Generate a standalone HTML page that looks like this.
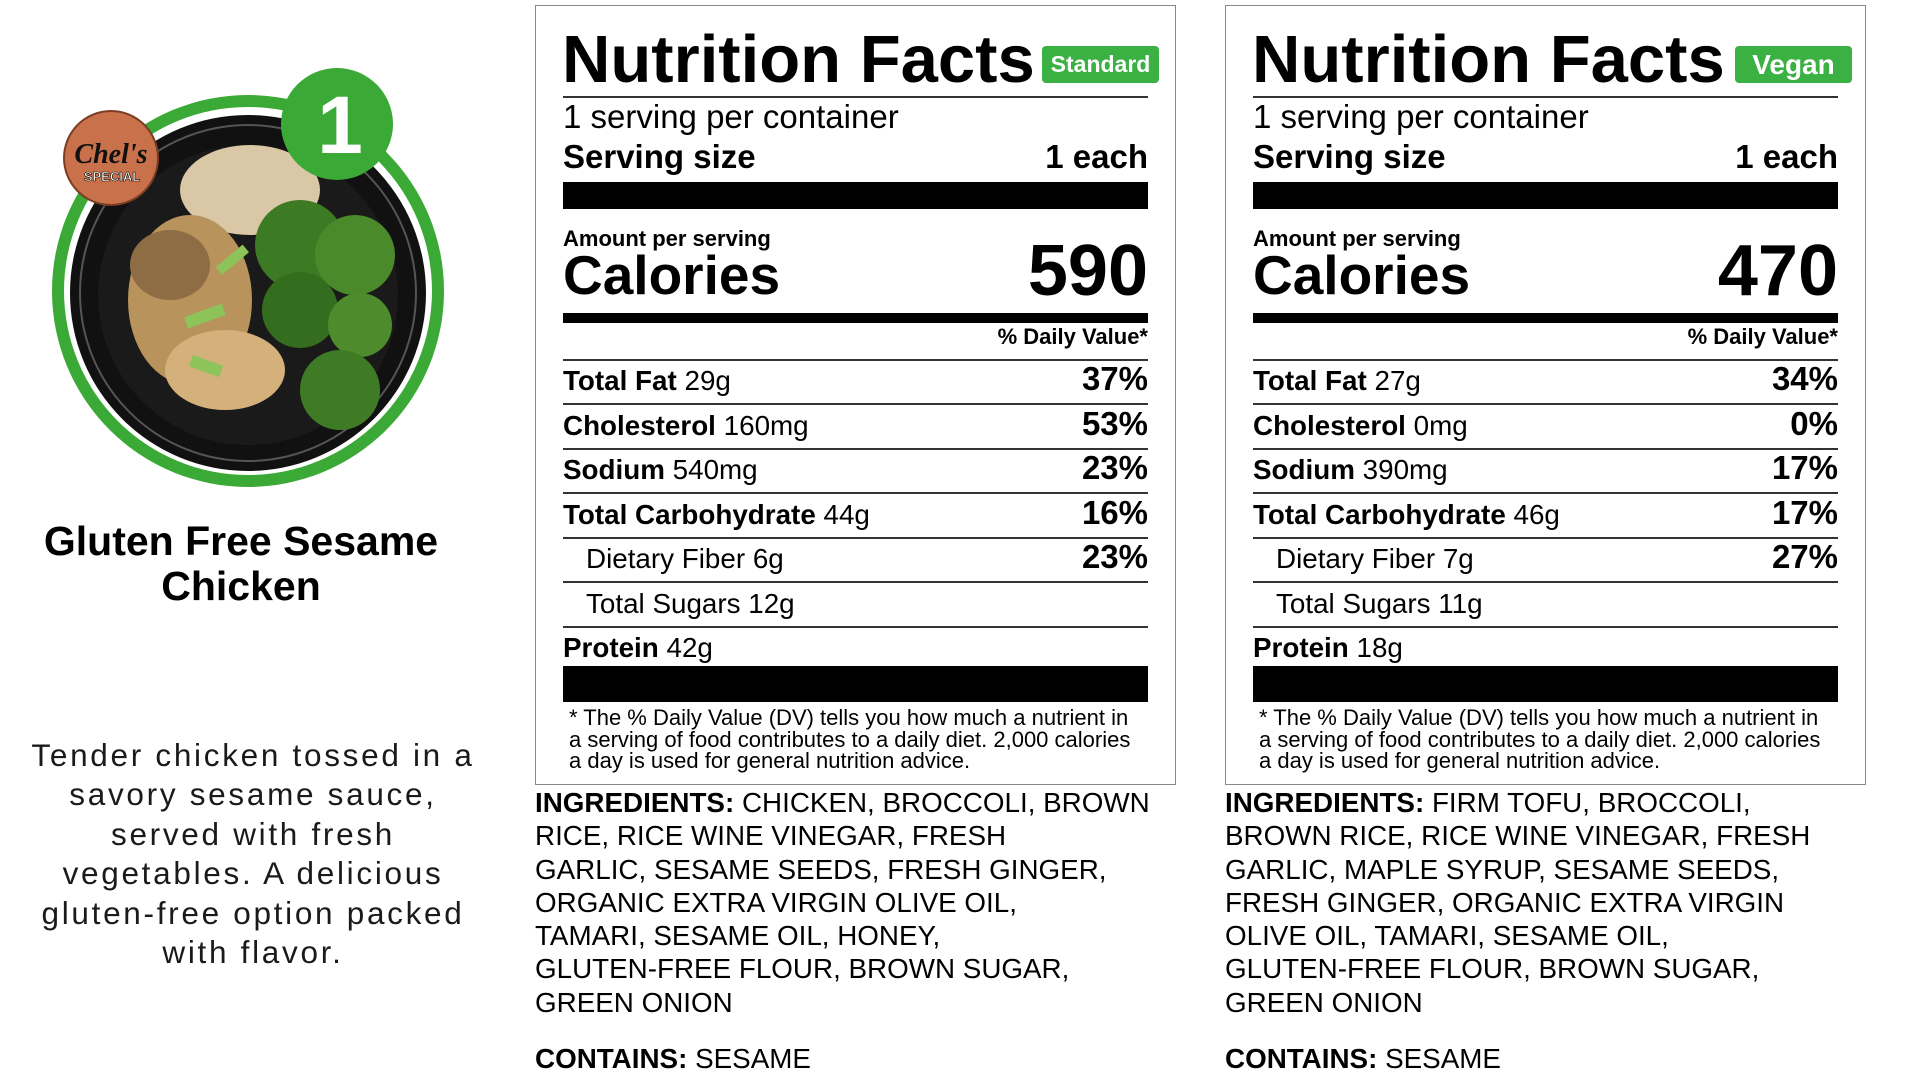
<!DOCTYPE html>
<html><head><meta charset="utf-8"><style>
*{margin:0;padding:0;box-sizing:border-box}
body{width:1915px;height:1080px;background:#fff;position:relative;overflow:hidden;font-family:"Liberation Sans",Arial,sans-serif;color:#000}
.a{position:absolute;white-space:nowrap}
.box{position:absolute;top:5px;width:641px;height:780px;border:1.5px solid #888}
.r{text-align:right}
.hl{position:absolute;height:2px;background:#333}
.bk{position:absolute;background:#000}
.badge{position:absolute;top:46px;height:37px;background:#3bb143;border-radius:4px;color:#fff;font-weight:bold;text-align:center;line-height:37px}
.row{font-size:27.8px;line-height:28px}
.pc{font-size:33px;line-height:33px;font-weight:bold}
.ing{font-size:27.8px;line-height:33.3px}
.left{position:absolute;white-space:nowrap;text-align:center}
</style></head><body>

<svg class="a" style="left:0;top:0" width="500" height="520" viewBox="0 0 500 520">
  <circle cx="248" cy="291" r="196" fill="#3aa935"/>
  <circle cx="248" cy="291" r="184" fill="#fff"/>
  <circle cx="248" cy="293" r="178" fill="#111"/>
  <circle cx="248" cy="293" r="168" fill="none" stroke="#555" stroke-width="2"/>
  <circle cx="248" cy="295" r="150" fill="#1a1a1a"/>
  <ellipse cx="250" cy="190" rx="70" ry="45" fill="#d9c7a6"/>
  <ellipse cx="190" cy="300" rx="62" ry="85" fill="#b8935c"/>
  <ellipse cx="225" cy="370" rx="60" ry="40" fill="#d4b07a"/>
  <ellipse cx="170" cy="265" rx="40" ry="35" fill="#8e6d45"/>
  <circle cx="300" cy="245" r="45" fill="#3d7a24"/>
  <circle cx="355" cy="255" r="40" fill="#4a8a2a"/>
  <circle cx="300" cy="310" r="38" fill="#356d1f"/>
  <circle cx="360" cy="325" r="32" fill="#4e8b2c"/>
  <circle cx="340" cy="390" r="40" fill="#3f7b24"/>
  <rect x="185" y="310" width="40" height="12" fill="#8cc45a" transform="rotate(-20 205 316)"/>
  <rect x="215" y="255" width="35" height="10" fill="#8cc45a" transform="rotate(-40 232 260)"/>
  <rect x="190" y="360" width="32" height="12" fill="#8cc45a" transform="rotate(20 206 366)"/>
  <circle cx="337" cy="124" r="56" fill="#3aa935"/>
  <text x="340" y="153" font-family="Liberation Sans" font-weight="bold" font-size="82" fill="#fff" text-anchor="middle">1</text>
  <circle cx="111" cy="158" r="47" fill="#c8714a" stroke="#7a3e22" stroke-width="2"/>
  <text x="111" y="163" font-family="Liberation Serif" font-style="italic" font-weight="bold" font-size="28" fill="#111" text-anchor="middle">Chel's</text>
  <text x="112" y="181" font-family="Liberation Sans" font-weight="bold" font-size="13" fill="#fff" stroke="#000" stroke-width="0.6" text-anchor="middle">SPECIAL</text>
</svg>

<div class="left" style="left:0;width:482px;top:519px;font-size:41px;line-height:45px;font-weight:bold">Gluten Free Sesame<br>Chicken</div>
<div class="left" style="left:3px;width:500px;top:736px;font-size:31.5px;line-height:39.4px;letter-spacing:2.7px;color:#1a1a1a">Tender chicken tossed in a<br>savory sesame sauce,<br>served with fresh<br>vegetables. A delicious<br>gluten-free option packed<br>with flavor.</div>

<!-- PANEL 1 -->
<div class="box" style="left:535px"></div>
<div class="a" style="left:562px;top:26px;font-size:67px;line-height:67px;font-weight:bold">Nutrition Facts</div>
<div class="badge" style="left:1042px;width:117px;font-size:23px">Standard</div>
<div class="hl" style="left:563px;width:585px;top:96px"></div>
<div class="a" style="left:563px;top:100px;font-size:33px;line-height:33px">1 serving per container</div>
<div class="a" style="left:563px;top:140px;font-size:33px;line-height:33px;font-weight:bold">Serving size</div>
<div class="a r" style="left:894px;width:254px;top:140px;font-size:33px;line-height:33px;font-weight:bold">1 each</div>
<div class="bk" style="left:563px;width:585px;top:182px;height:27px"></div>
<div class="a" style="left:563px;top:228px;font-size:22px;line-height:22px;font-weight:bold">Amount per serving</div>
<div class="a" style="left:563px;top:248px;font-size:55px;line-height:55px;font-weight:bold">Calories</div>
<div class="a r" style="left:894px;width:254px;top:235px;font-size:72px;line-height:72px;font-weight:bold">590</div>
<div class="bk" style="left:563px;width:585px;top:313px;height:10px"></div>
<div class="a r" style="left:894px;width:254px;top:326px;font-size:22px;line-height:22px;font-weight:bold">% Daily Value*</div>
<div class="hl" style="left:563px;width:585px;top:359px"></div>
<div class="hl" style="left:563px;width:585px;top:403px"></div>
<div class="hl" style="left:563px;width:585px;top:448px"></div>
<div class="hl" style="left:563px;width:585px;top:492px"></div>
<div class="hl" style="left:563px;width:585px;top:537px"></div>
<div class="hl" style="left:563px;width:585px;top:581px"></div>
<div class="hl" style="left:563px;width:585px;top:626px"></div>
<div class="a row" style="left:563px;top:367px"><b>Total Fat</b> 29g</div>
<div class="a row" style="left:563px;top:412px"><b>Cholesterol</b> 160mg</div>
<div class="a row" style="left:563px;top:456px"><b>Sodium</b> 540mg</div>
<div class="a row" style="left:563px;top:501px"><b>Total Carbohydrate</b> 44g</div>
<div class="a row" style="left:586px;top:545px">Dietary Fiber 6g</div>
<div class="a row" style="left:586px;top:590px">Total Sugars 12g</div>
<div class="a row" style="left:563px;top:634px"><b>Protein</b> 42g</div>
<div class="a r pc" style="left:994px;width:154px;top:362px">37%</div>
<div class="a r pc" style="left:994px;width:154px;top:407px">53%</div>
<div class="a r pc" style="left:994px;width:154px;top:451px">23%</div>
<div class="a r pc" style="left:994px;width:154px;top:496px">16%</div>
<div class="a r pc" style="left:994px;width:154px;top:540px">23%</div>
<div class="bk" style="left:563px;width:585px;top:666px;height:36px"></div>
<div class="a" style="left:569px;top:707px;font-size:22px;line-height:21.7px">* The % Daily Value (DV) tells you how much a nutrient in<br>a serving of food contributes to a daily diet. 2,000 calories<br>a day is used for general nutrition advice.</div>
<div class="a ing" style="left:535px;top:786px"><b>INGREDIENTS:</b> CHICKEN, BROCCOLI, BROWN<br>RICE, RICE WINE VINEGAR, FRESH<br>GARLIC, SESAME SEEDS, FRESH GINGER,<br>ORGANIC EXTRA VIRGIN OLIVE OIL,<br>TAMARI, SESAME OIL, HONEY,<br>GLUTEN-FREE FLOUR, BROWN SUGAR,<br>GREEN ONION</div>
<div class="a ing" style="left:535px;top:1042px"><b>CONTAINS:</b> SESAME</div>

<!-- PANEL 2 -->
<div class="box" style="left:1225px"></div>
<div class="a" style="left:1252px;top:26px;font-size:67px;line-height:67px;font-weight:bold">Nutrition Facts</div>
<div class="badge" style="left:1735px;width:117px;font-size:28px">Vegan</div>
<div class="hl" style="left:1253px;width:585px;top:96px"></div>
<div class="a" style="left:1253px;top:100px;font-size:33px;line-height:33px">1 serving per container</div>
<div class="a" style="left:1253px;top:140px;font-size:33px;line-height:33px;font-weight:bold">Serving size</div>
<div class="a r" style="left:1584px;width:254px;top:140px;font-size:33px;line-height:33px;font-weight:bold">1 each</div>
<div class="bk" style="left:1253px;width:585px;top:182px;height:27px"></div>
<div class="a" style="left:1253px;top:228px;font-size:22px;line-height:22px;font-weight:bold">Amount per serving</div>
<div class="a" style="left:1253px;top:248px;font-size:55px;line-height:55px;font-weight:bold">Calories</div>
<div class="a r" style="left:1584px;width:254px;top:235px;font-size:72px;line-height:72px;font-weight:bold">470</div>
<div class="bk" style="left:1253px;width:585px;top:313px;height:10px"></div>
<div class="a r" style="left:1584px;width:254px;top:326px;font-size:22px;line-height:22px;font-weight:bold">% Daily Value*</div>
<div class="hl" style="left:1253px;width:585px;top:359px"></div>
<div class="hl" style="left:1253px;width:585px;top:403px"></div>
<div class="hl" style="left:1253px;width:585px;top:448px"></div>
<div class="hl" style="left:1253px;width:585px;top:492px"></div>
<div class="hl" style="left:1253px;width:585px;top:537px"></div>
<div class="hl" style="left:1253px;width:585px;top:581px"></div>
<div class="hl" style="left:1253px;width:585px;top:626px"></div>
<div class="a row" style="left:1253px;top:367px"><b>Total Fat</b> 27g</div>
<div class="a row" style="left:1253px;top:412px"><b>Cholesterol</b> 0mg</div>
<div class="a row" style="left:1253px;top:456px"><b>Sodium</b> 390mg</div>
<div class="a row" style="left:1253px;top:501px"><b>Total Carbohydrate</b> 46g</div>
<div class="a row" style="left:1276px;top:545px">Dietary Fiber 7g</div>
<div class="a row" style="left:1276px;top:590px">Total Sugars 11g</div>
<div class="a row" style="left:1253px;top:634px"><b>Protein</b> 18g</div>
<div class="a r pc" style="left:1684px;width:154px;top:362px">34%</div>
<div class="a r pc" style="left:1684px;width:154px;top:407px">0%</div>
<div class="a r pc" style="left:1684px;width:154px;top:451px">17%</div>
<div class="a r pc" style="left:1684px;width:154px;top:496px">17%</div>
<div class="a r pc" style="left:1684px;width:154px;top:540px">27%</div>
<div class="bk" style="left:1253px;width:585px;top:666px;height:36px"></div>
<div class="a" style="left:1259px;top:707px;font-size:22px;line-height:21.7px">* The % Daily Value (DV) tells you how much a nutrient in<br>a serving of food contributes to a daily diet. 2,000 calories<br>a day is used for general nutrition advice.</div>
<div class="a ing" style="left:1225px;top:786px"><b>INGREDIENTS:</b> FIRM TOFU, BROCCOLI,<br>BROWN RICE, RICE WINE VINEGAR, FRESH<br>GARLIC, MAPLE SYRUP, SESAME SEEDS,<br>FRESH GINGER, ORGANIC EXTRA VIRGIN<br>OLIVE OIL, TAMARI, SESAME OIL,<br>GLUTEN-FREE FLOUR, BROWN SUGAR,<br>GREEN ONION</div>
<div class="a ing" style="left:1225px;top:1042px"><b>CONTAINS:</b> SESAME</div>

</body></html>
